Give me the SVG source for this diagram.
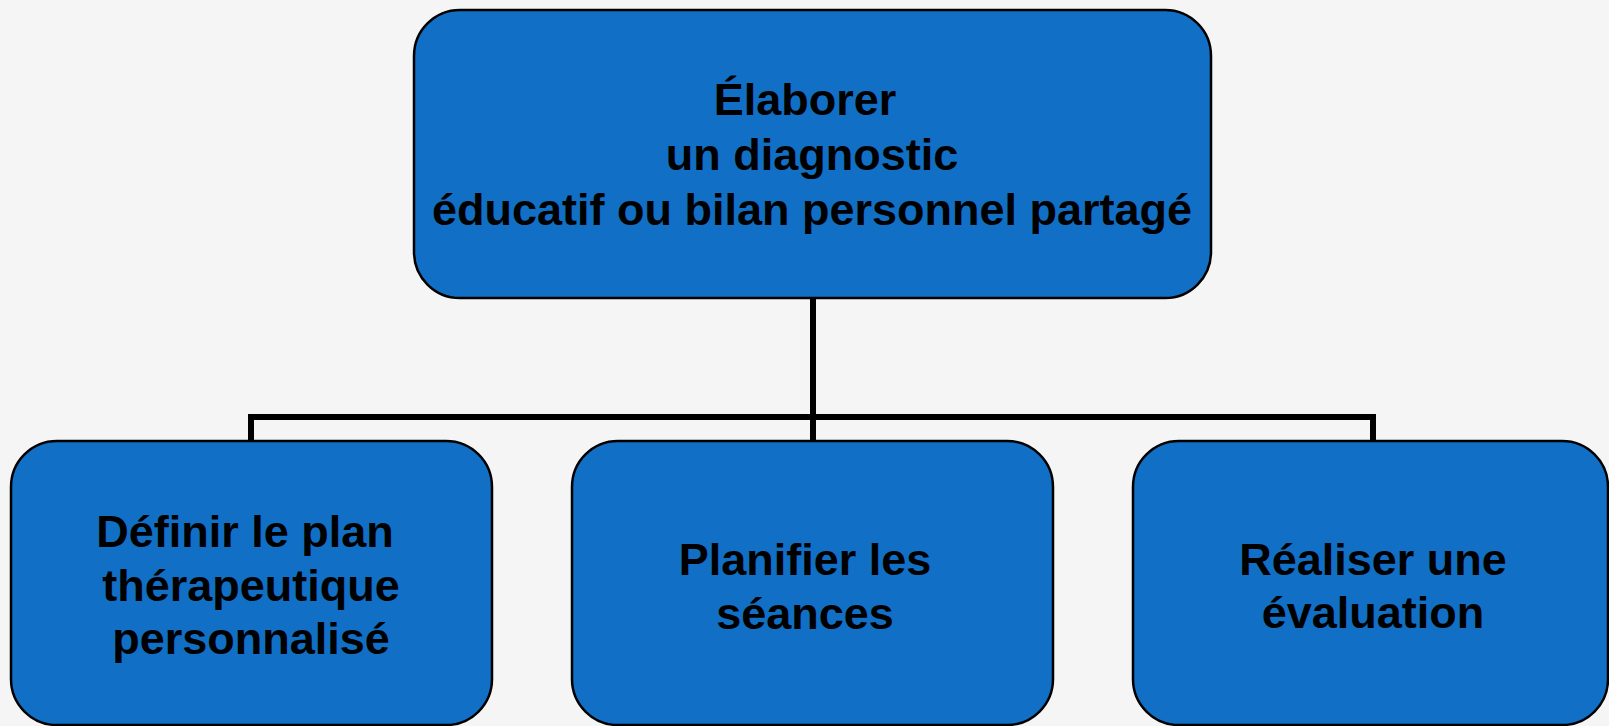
<svg xmlns="http://www.w3.org/2000/svg" width="1609" height="726" viewBox="0 0 1609 726">
<style>
.box{fill:#116FC6;stroke:#000;stroke-width:2.5}
.conn{fill:none;stroke:#000;stroke-width:6;stroke-linejoin:miter}
.t{font-family:"Liberation Sans",Arial,sans-serif;font-weight:bold;font-size:45px;fill:#000;text-anchor:middle}
</style>
<rect x="0" y="0" width="1609" height="726" fill="#F5F5F5"/>
<g id="connectors">
<path class="conn" d="M813 297 V441"/>
<path class="conn" d="M251 441 V417 H1373 V441"/>
</g>
<g id="node-top">
<rect class="box" x="414" y="10" width="797" height="288" rx="46" ry="46"/>
<text class="t" x="805" y="115">Élaborer</text>
<text class="t" x="812" y="170">un diagnostic</text>
<text class="t" x="812" y="225">éducatif ou bilan personnel partagé</text>
</g>
<g id="node-left">
<rect class="box" x="11" y="441" width="481" height="284" rx="46" ry="46"/>
<text class="t" x="245" y="547">Définir le plan</text>
<text class="t" x="251" y="601">thérapeutique</text>
<text class="t" x="251" y="654">personnalisé</text>
</g>
<g id="node-middle">
<rect class="box" x="572" y="441" width="481" height="284" rx="46" ry="46"/>
<text class="t" x="805" y="575">Planifier les</text>
<text class="t" x="805" y="629">séances</text>
</g>
<g id="node-right">
<rect class="box" x="1133" y="441" width="475" height="284" rx="46" ry="46"/>
<text class="t" x="1373" y="575">Réaliser une</text>
<text class="t" x="1373" y="628">évaluation</text>
</g>
</svg>
